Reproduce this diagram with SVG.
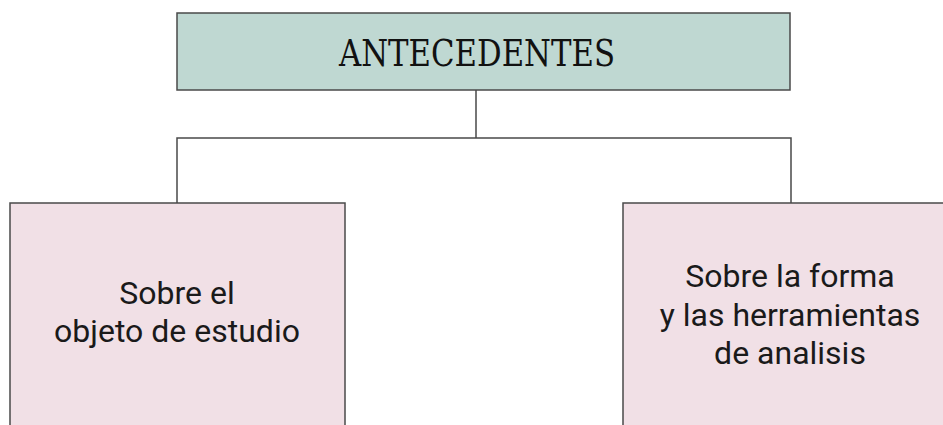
<svg xmlns="http://www.w3.org/2000/svg" width="943" height="425" viewBox="0 0 943 425">
<style>
.box{stroke:#4a4a4a;stroke-width:1.5}
.top{fill:#bfd8d2}
.sub{fill:#f1e0e6}
.conn{fill:none;stroke:#4a4a4a;stroke-width:1.5}
.title{font-family:"DejaVu Serif Condensed","DejaVu Serif",serif;font-size:37px;fill:#111}
.lbl{font-family:Roboto,"Liberation Sans",sans-serif;font-size:32px;fill:#1a1a1a;text-anchor:middle}
</style>
<rect width="943" height="425" fill="#ffffff"/>
<g id="connectors">
<path class="conn" d="M476 90 V138 M177 203 V138 H791 V203"/>
</g>
<g id="antecedentes">
<rect class="box top" x="177" y="13" width="613" height="77"/>
<text class="title" x="339" y="66" textLength="276" lengthAdjust="spacingAndGlyphs">ANTECEDENTES</text>
</g>
<g id="objeto">
<rect class="box sub" x="10" y="203" width="335" height="240"/>
<text class="lbl" x="177" y="304">Sobre el</text>
<text class="lbl" x="177" y="342">objeto de estudio</text>
</g>
<g id="forma">
<rect class="box sub" x="623" y="203" width="340" height="240"/>
<text class="lbl" x="790" y="287">Sobre la forma</text>
<text class="lbl" x="790" y="326">y las herramientas</text>
<text class="lbl" x="790" y="364">de analisis</text>
</g>
</svg>
